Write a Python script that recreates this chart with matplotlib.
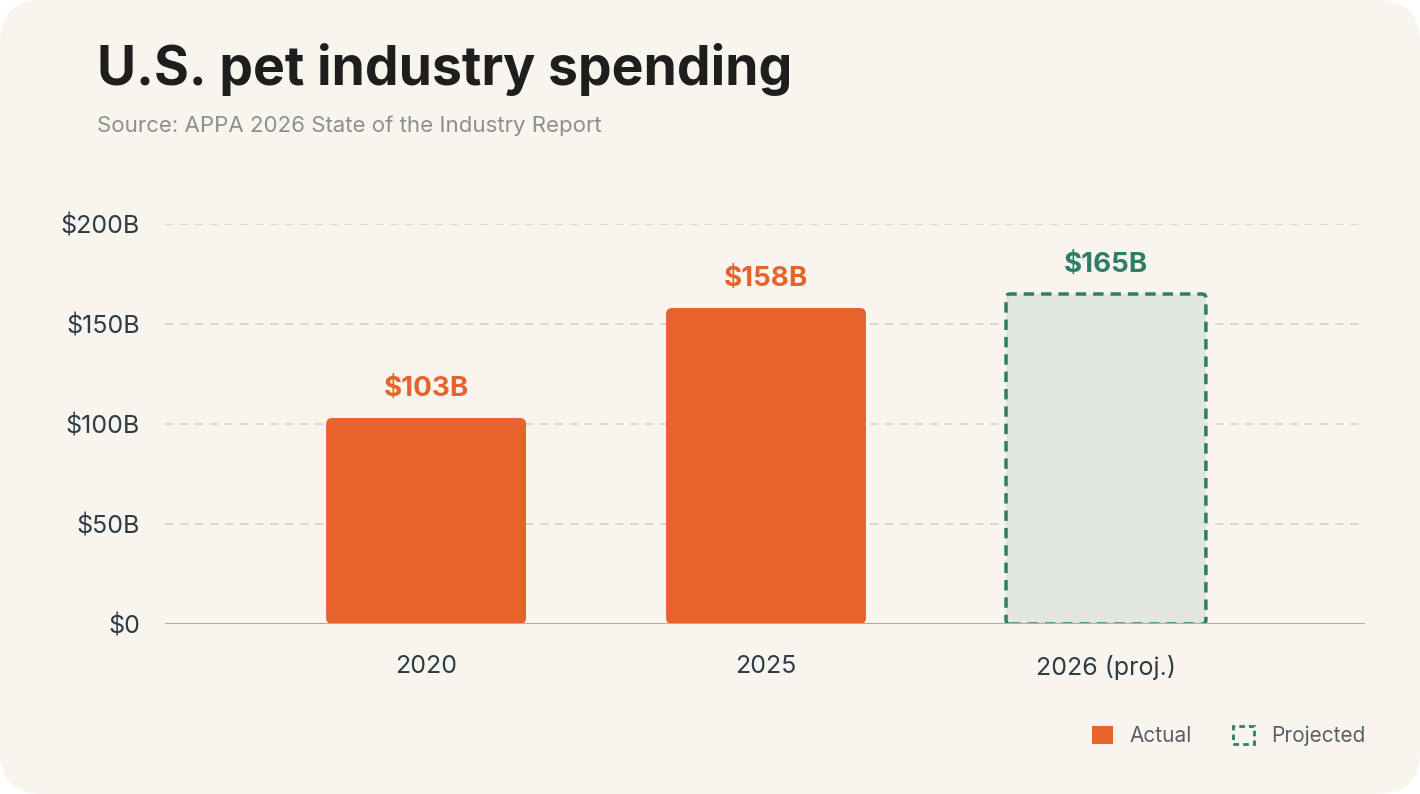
import matplotlib
matplotlib.use("Agg")
import matplotlib.pyplot as plt
from matplotlib.patches import FancyBboxPatch, Patch

categories = ['2020', '2025', '2026 (proj.)']
values = [103, 158, 165]
labels = ['$103B', '$158B', '$165B']
projected = [False, False, True]
yticks = [0, 50, 100, 150, 200]
ytick_labels = ['$0', '$50B', '$100B', '$150B', '$200B']

orange = '#E8622C'
green = '#2E7D66'
proj_fill = '#E1E6DF'
bg = '#F8F5EE'
text_dark = '#2F3B45'

plt.rcParams['font.family'] = ['Inter', 'DejaVu Sans']

fig = plt.figure(figsize=(14.2, 7.94), dpi=100)
fig.patch.set_facecolor('white')
card = FancyBboxPatch((0.0, 0.0), 1.0, 1.0, boxstyle='round,pad=0,rounding_size=0.03',
                      transform=fig.transFigure, facecolor=bg, edgecolor='none',
                      mutation_aspect=1420 / 794, zorder=-10)
fig.patches.append(card)

ax = fig.add_axes([165 / 1420, 170 / 794, 1200 / 1420, 400 / 794])
ax.set_facecolor('none')
ax.set_xlim(-0.768, 2.762)
ax.set_ylim(0, 200)

w = 0.588
for i, (v, lab, pr) in enumerate(zip(values, labels, projected)):
    if pr:
        p = FancyBboxPatch((i - w / 2, 0), w, v, boxstyle='round,pad=0,rounding_size=0.012',
                           mutation_aspect=170, facecolor=proj_fill, edgecolor=green,
                           linewidth=2.5, linestyle=(0, (3, 2)), zorder=3)
        col = green
    else:
        p = FancyBboxPatch((i - w / 2, 0), w, v, boxstyle='round,pad=0,rounding_size=0.018',
                           mutation_aspect=170, facecolor=orange, edgecolor='none', zorder=3)
        col = orange
    ax.add_patch(p)
    ax.text(i, v + 8, lab, ha='center', va='bottom', fontsize=20, fontweight='bold', color=col)

ax.set_yticks(yticks)
ax.set_yticklabels(ytick_labels, fontsize=18, color=text_dark)
ax.set_xticks(range(len(categories)))
ax.set_xticklabels(categories, fontsize=18, color=text_dark)
ax.tick_params(length=0)
ax.tick_params(axis='x', pad=22)
ax.tick_params(axis='y', pad=18)
for y in yticks[1:]:
    ax.axhline(y, color='#D5D2CB', linewidth=1.2, linestyle=(0, (5, 4)), zorder=1)
ax.axhline(0, color='#B5ACA2', linewidth=1.5, zorder=4)
for s in ax.spines.values():
    s.set_visible(False)

fig.text(97 / 1420, 1 - 70 / 794, 'U.S. pet industry spending', fontsize=38.5, fontweight='bold',
         color='#1E1E1E', va='center')
fig.text(97 / 1420, 1 - 126 / 794, 'Source: APPA 2026 State of the Industry Report', fontsize=16,
         color='#8E8E8E', va='center')

handles = [Patch(facecolor=orange, edgecolor='none', label='Actual'),
           Patch(facecolor=bg, edgecolor=green, linestyle=(0, (2, 1.5)), linewidth=2, label='Projected')]
leg = fig.legend(handles=handles, loc='center right', bbox_to_anchor=(1384 / 1420, 1 - 736 / 794),
                 ncol=2, frameon=False, fontsize=15, handlelength=1.0, handleheight=1.0,
                 columnspacing=2.0, handletextpad=0.8)
for t in leg.get_texts():
    t.set_color('#5A5F66')

fig.savefig('out.png', dpi=100, facecolor='white')
